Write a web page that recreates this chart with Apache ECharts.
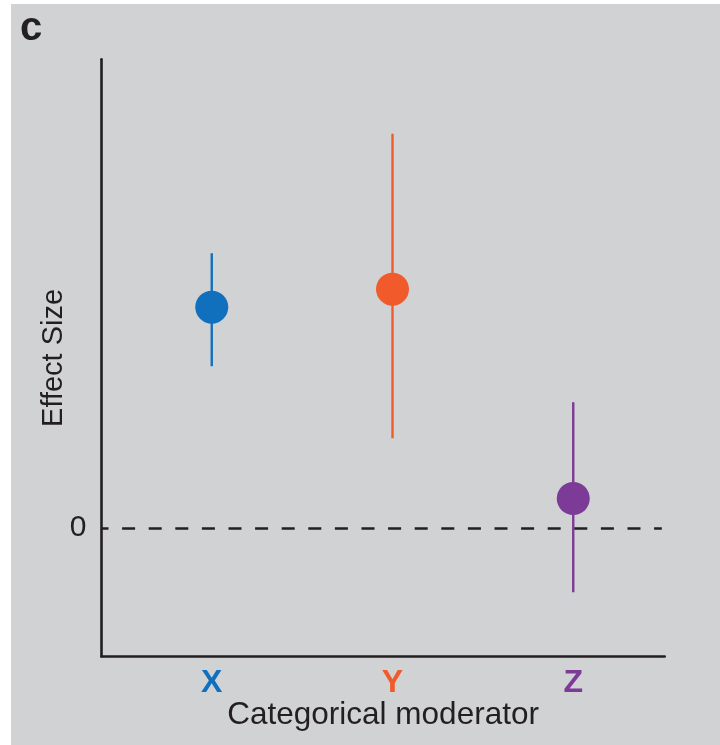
<!DOCTYPE html>
<html>
<head>
<meta charset="utf-8">
<script src="https://cdn.jsdelivr.net/npm/echarts@6/dist/echarts.min.js"></script>
<style>
  html, body { margin: 0; padding: 0; background: #ffffff; }
  #chart { width: 720px; height: 745px; }
</style>
</head>
<body>
<div id="chart"></div>
<script>
// Moderator levels and their effect estimates with confidence limits
const categories = ['X', 'Y', 'Z'];
const effect = [1.72, 1.86, 0.23];
const ciLow = [1.26, 0.70, -0.50];
const ciHigh = [2.14, 3.07, 0.98];
const yTickValues = [0];

const palette = ['#1170bd', '#f15a2b', '#7c3b96'];
const ink = '#231f20';
const font = '"Liberation Sans", Arial, Helvetica, sans-serif';

const xMin = 0.39, xMax = 3.506;

const points = categories.map((c, i) => ({
  value: [i + 1, effect[i]],
  itemStyle: { color: palette[i], opacity: 1 }
}));
const intervals = categories.map((c, i) => [i + 1, ciLow[i], ciHigh[i]]);

const rich = {};
categories.forEach((c, i) => {
  rich['c' + i] = { color: palette[i], fontWeight: 'bold', fontSize: 32, fontFamily: font };
});

const chart = echarts.init(document.getElementById('chart'), null, { renderer: 'canvas' });

chart.setOption({
  backgroundColor: '#ffffff',
  animation: false,
  graphic: [
    {
      type: 'rect', z: -10, silent: true,
      shape: { x: 11, y: 4, width: 709, height: 741 },
      style: { fill: '#d1d2d4' }
    },
    {
      type: 'text', left: 20, top: 9,
      style: { text: 'c', font: 'bold 40px ' + font, fill: ink }
    }
  ],
  grid: { left: 101.5, right: 55.3, top: 59.3, bottom: 88.5, containLabel: false },
  xAxis: {
    type: 'value',
    min: xMin, max: xMax,
    splitLine: { show: false },
    axisLine: { show: true, onZero: false, lineStyle: { color: ink, width: 2.6 } },
    axisTick: { show: false },
    axisLabel: {
      customValues: [1, 2, 3],
      margin: 11,
      formatter: v => {
        const i = Math.round(v) - 1;
        return '{c' + i + '|' + categories[i] + '}';
      },
      rich: rich
    },
    name: 'Categorical moderator',
    nameLocation: 'middle',
    nameGap: 43,
    nameMoveOverlap: false,
    nameTextStyle: { color: ink, fontSize: 31.5, fontFamily: font }
  },
  yAxis: {
    type: 'value',
    min: -1, max: 3.65,
    splitLine: { show: false },
    axisLine: { show: true, onZero: false, lineStyle: { color: ink, width: 2.6 } },
    axisTick: { show: false },
    axisLabel: {
      customValues: yTickValues,
      margin: 15,
      color: ink,
      fontSize: 30,
      fontFamily: font
    },
    name: 'Effect Size',
    nameLocation: 'middle',
    nameGap: 33,
    nameMoveOverlap: false,
    nameTextStyle: { color: ink, fontSize: 29, fontFamily: font }
  },
  series: [
    {
      type: 'custom',
      data: intervals,
      z: 2,
      renderItem: (params, api) => {
        const x = api.value(0);
        const lo = api.coord([x, api.value(1)]);
        const hi = api.coord([x, api.value(2)]);
        return {
          type: 'line',
          shape: { x1: lo[0], y1: lo[1], x2: hi[0], y2: hi[1] },
          style: { stroke: palette[params.dataIndex], lineWidth: 2.4 }
        };
      },
      // dashed reference line at zero effect
      markLine: {
        silent: true,
        symbol: 'none',
        label: { show: false },
        lineStyle: { color: ink, type: [13, 13.6], dashOffset: 6, width: 2.6 },
        data: [[{ coord: [xMin, 0] }, { coord: [3.49, 0] }]]
      }
    },
    {
      type: 'scatter',
      data: points,
      z: 3,
      symbol: 'circle',
      symbolSize: 33,
      itemStyle: { opacity: 1 }
    }
  ]
});
</script>
</body>
</html>
